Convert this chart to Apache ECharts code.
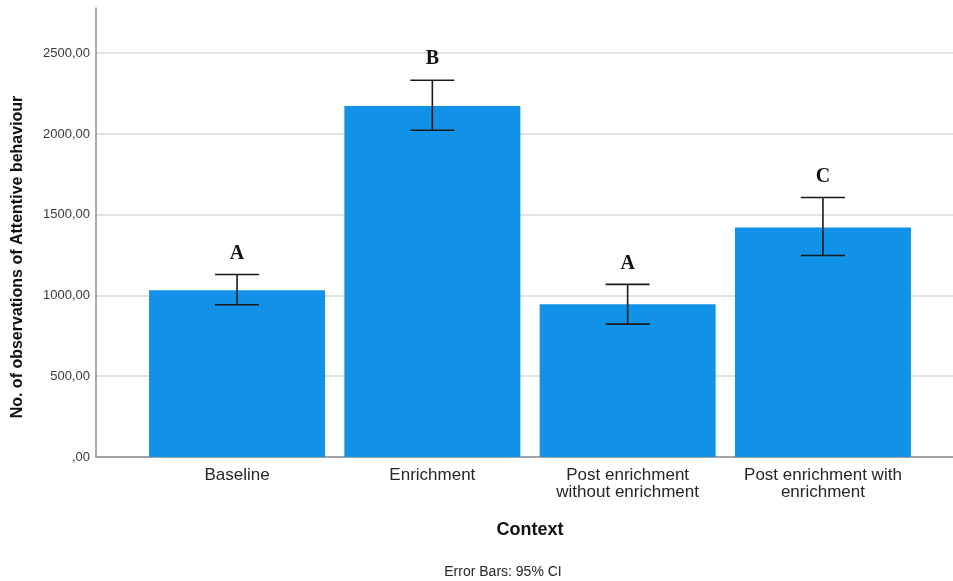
<!DOCTYPE html>
<html>
<head>
<meta charset="utf-8">
<title>Attentive behaviour by context</title>
<script src="https://cdn.jsdelivr.net/npm/echarts@6/dist/echarts.min.js"></script>
<style>
  html, body { margin: 0; padding: 0; background: #ffffff; }
  #chart { width: 953px; height: 581px; }
</style>
</head>
<body>
<div id="chart"></div>
<script>
// Context groups (tick labels on the category axis)
const categories = ['Baseline', 'Enrichment', 'Post enrichment\nwithout enrichment', 'Post enrichment with\nenrichment'];
// Mean number of observations of attentive behaviour
const means = [1033, 2174, 945, 1421];
// 95% confidence interval bounds
const ciLower = [943, 2023, 823, 1248];
const ciUpper = [1130, 2333, 1069, 1607];
// Significance group letters
const groupLetters = ['A', 'B', 'A', 'C'];
// Value axis ticks
const yTicks = [0, 500, 1000, 1500, 2000, 2500];

const Y_MAX = 2780;
const errorData = categories.map((c, i) => [i, ciLower[i], ciUpper[i], groupLetters[i]]);

const chart = echarts.init(document.getElementById('chart'), null, { renderer: 'canvas' });

const option = {
  backgroundColor: '#ffffff',
  animation: false,
  grid: [
    { left: 96, right: 0, top: 8, bottom: 124 },
    { left: 139.4, right: 32.4, top: 8, bottom: 124 }
  ],
  xAxis: [
    {
      gridIndex: 0, type: 'value', min: 0, max: 1,
      axisLine: { show: true, lineStyle: { color: '#8f8f8f', width: 1.5 } },
      axisTick: { show: false }, axisLabel: { show: false }, splitLine: { show: false }
    },
    {
      gridIndex: 1, type: 'category', data: categories,
      axisLine: { show: false }, axisTick: { show: false },
      axisLabel: {
        interval: 0, margin: 10, color: '#262626', fontSize: 17, lineHeight: 17,
        fontFamily: 'Liberation Sans, Arial, sans-serif'
      },
      name: 'Context', nameLocation: 'middle', nameGap: 64,
      nameTextStyle: { fontSize: 18, fontWeight: 'bold', color: '#111', fontFamily: 'Liberation Sans, Arial, sans-serif' }
    }
  ],
  yAxis: [
    {
      gridIndex: 0, type: 'value', min: yTicks[0], max: Y_MAX, interval: yTicks[1] - yTicks[0],
      axisLine: { show: true, lineStyle: { color: '#8f8f8f', width: 1.5 } },
      axisTick: { show: false },
      axisLabel: {
        showMaxLabel: false, margin: 6, color: '#3a3a3a', fontSize: 13,
        fontFamily: 'Liberation Sans, Arial, sans-serif',
        formatter: v => (v === 0 ? '' : String(v)) + ',00'
      },
      splitLine: { show: true, showMaxLine: false, lineStyle: { color: '#d9d9d9', width: 1.5 } }
    },
    {
      gridIndex: 1, type: 'value', min: yTicks[0], max: Y_MAX, show: false,
      splitLine: { show: false }
    }
  ],
  graphic: [
    {
      type: 'text', x: 18, y: 257, rotation: Math.PI / 2,
      style: {
        text: 'No. of observations of Attentive behaviour',
        fontSize: 16, fontWeight: 'bold', fill: '#111',
        fontFamily: 'Liberation Sans, Arial, sans-serif',
        align: 'center', verticalAlign: 'middle'
      }
    },
    {
      type: 'text', x: 503, y: 572,
      style: {
        text: 'Error Bars: 95% CI',
        fontSize: 14, fill: '#262626',
        fontFamily: 'Liberation Sans, Arial, sans-serif',
        align: 'center', verticalAlign: 'middle'
      }
    }
  ],
  series: [
    {
      type: 'bar', xAxisIndex: 1, yAxisIndex: 1,
      data: means, barWidth: 176,
      itemStyle: { color: '#1192e8' },
      z: 2
    },
    {
      type: 'custom', xAxisIndex: 1, yAxisIndex: 1,
      data: errorData,
      encode: { x: 0, y: [1, 2] },
      z: 5,
      renderItem: function (params, api) {
        const i = api.value(0);
        const lo = api.coord([i, api.value(1)]);
        const hi = api.coord([i, api.value(2)]);
        const cap = 22;
        const style = { stroke: '#1a1a1a', lineWidth: 1.6, fill: null };
        return {
          type: 'group',
          children: [
            { type: 'line', shape: { x1: hi[0], y1: hi[1], x2: lo[0], y2: lo[1] }, style },
            { type: 'line', shape: { x1: hi[0] - cap, y1: hi[1], x2: hi[0] + cap, y2: hi[1] }, style },
            { type: 'line', shape: { x1: lo[0] - cap, y1: lo[1], x2: lo[0] + cap, y2: lo[1] }, style },
            {
              type: 'text', x: hi[0], y: hi[1] - 21,
              style: {
                text: groupLetters[params.dataIndex],
                fontSize: 20, fontWeight: 'bold', fill: '#111',
                fontFamily: 'Liberation Serif, Times New Roman, serif',
                align: 'center', verticalAlign: 'middle'
              }
            }
          ]
        };
      }
    }
  ]
};

chart.setOption(option);
</script>
</body>
</html>
